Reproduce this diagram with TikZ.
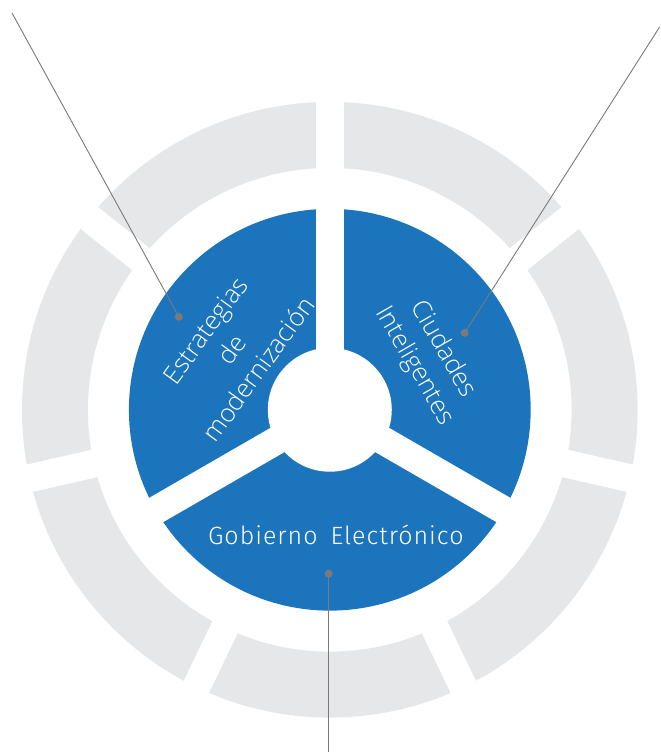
\documentclass[tikz,border=0pt]{standalone}
\usepackage{fontspec}
\setmainfont{Open Sans}[UprightFont={* Light}]
\newfontfamily\dinfont{Fira Sans}[UprightFont={* Light},LetterSpace=4]
\usetikzlibrary{calc,positioning}
\definecolor{segblue}{HTML}{1C75BC}
\definecolor{seggrey}{HTML}{E6E7E8}
\definecolor{leadgrey}{HTML}{7A7A7A}
\tikzset{
  sector text/.style={text=white, align=center, inner sep=0pt, font=\fontsize{25.5}{33}\selectfont},
  leader/.style={draw=leadgrey, line width=0.9pt},
  leader dot/.style={circle, fill=leadgrey, inner sep=0pt, minimum size=8pt},
}
\begin{document}
\begin{tikzpicture}[x=1pt,y=1pt]
\fill[white] (0,0) rectangle (660,752);
\coordinate (c) at (330,342);
% grey outer ring, seven pieces
\fill[seggrey, even odd rule] (c) circle (308) (c) circle (242);
\foreach \k in {0,...,6}
{
\draw[white, line width=28pt] (c) -- ++(90+\k*360/7:320);
}
% blue ring, three sectors
\fill[segblue] (c) circle (201);
\foreach \a in {90,210,330}
{
\draw[white, line width=28pt] (c) -- ++(\a:222);
}
\fill[white] (c) circle (62);
% labels
\node[sector text, rotate=54] (estr) at (232,402) {Estrategias\\de\\modernización};
\node[sector text, rotate=-60] (ciud) at (429,394) {Ciudades\\Inteligentes};
\node[text=white, inner sep=0pt, font=\dinfont\fontsize{25}{28}\selectfont] (gob) at (336,217) {Gobierno\hspace{13pt}Electrónico};
% leaders
\node[leader dot] (dotestr) at (179,435) {};
\node[leader dot] (dotciud) at (465,419) {};
\node[leader dot] (dotgob) at (329,178) {};
\coordinate (endestr) at (12,739);
\coordinate (endciud) at (660,725);
\coordinate (endgob) at (329,0);
\draw[leader] (dotestr.center) -- (endestr);
\draw[leader] (dotciud.center) -- (endciud);
\draw[leader] (dotgob.center) -- (endgob);
\end{tikzpicture}
\end{document}
